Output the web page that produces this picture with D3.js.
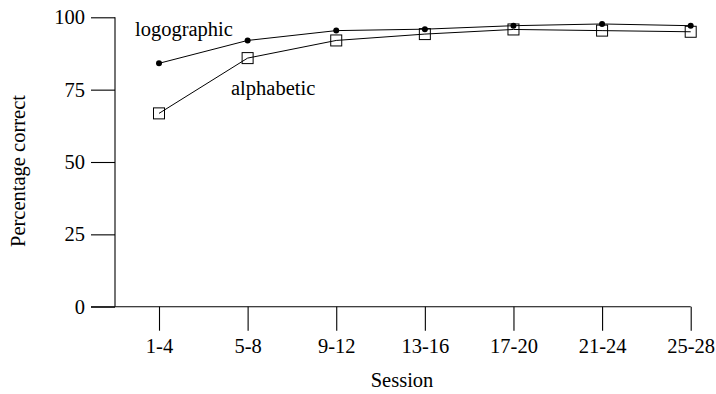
<!DOCTYPE html>
<html><head><meta charset="utf-8">
<script src="https://cdn.jsdelivr.net/npm/d3@7"></script>
<style>body{margin:0;background:#fff}text{font-family:"Liberation Serif","Times New Roman",serif;fill:#000}</style>
</head><body><svg id="c" width="716" height="394"></svg>
<script>
const sessions = ["1-4","5-8","9-12","13-16","17-20","21-24","25-28"];
const logographic = [84.1, 92.0, 95.4, 95.9, 97.1, 97.7, 97.1];
const alphabetic = [66.8, 85.9, 92.0, 94.2, 95.8, 95.4, 95.0];
const yTicks = [0, 25, 50, 75, 100];

const svg = d3.select("#c");
const fs = 20.5;
const x = d3.scalePoint().domain(sessions).range([159, 690.7]);
const y = d3.scaleLinear().domain([0, 100]).range([306.7, 17.3]);

// y axis
const yAxis = svg.append("g").attr("transform", "translate(115,0)")
  .call(d3.axisLeft(y).tickValues(yTicks).tickSize(24).tickPadding(6));
yAxis.select(".domain").attr("d", `M0,${y(0)}V${y(100)}`);
// x axis
const xAxis = svg.append("g").attr("transform", `translate(0,${y(0)})`)
  .call(d3.axisBottom(x).tickSize(24).tickPadding(8));
xAxis.select(".domain").attr("d", `M91,0H${x("25-28")}`);
svg.selectAll(".tick text").attr("font-size", fs).attr("font-family", '"Liberation Serif",serif');
svg.selectAll(".domain, .tick line").attr("stroke", "#000").attr("stroke-width", 1.1);

const line = d3.line().x((d, i) => x(sessions[i])).y(d => y(d));
svg.append("path").datum(alphabetic).attr("d", line).attr("fill", "none").attr("stroke", "#000").attr("stroke-width", 1);
svg.append("path").datum(logographic).attr("d", line).attr("fill", "none").attr("stroke", "#000").attr("stroke-width", 1);

const s = 11;
svg.selectAll("rect.alpha").data(alphabetic).join("rect").attr("class", "alpha")
  .attr("x", (d, i) => x(sessions[i]) - s / 2).attr("y", d => y(d) - s / 2)
  .attr("width", s).attr("height", s).attr("fill", "none").attr("stroke", "#000").attr("stroke-width", 1);
svg.selectAll("circle.logo").data(logographic).join("circle").attr("class", "logo")
  .attr("cx", (d, i) => x(sessions[i])).attr("cy", d => y(d)).attr("r", 3).attr("fill", "#000");

svg.append("text").attr("x", 135).attr("y", 36).attr("font-size", fs).text("logographic");
svg.append("text").attr("x", 231).attr("y", 95).attr("font-size", fs).text("alphabetic");

svg.append("text").attr("x", 402).attr("y", 387).attr("text-anchor", "middle").attr("font-size", fs).text("Session");
svg.append("text").attr("transform", "translate(25,171) rotate(-90)").attr("text-anchor", "middle")
  .attr("font-size", fs).text("Percentage correct");
</script></body></html>
